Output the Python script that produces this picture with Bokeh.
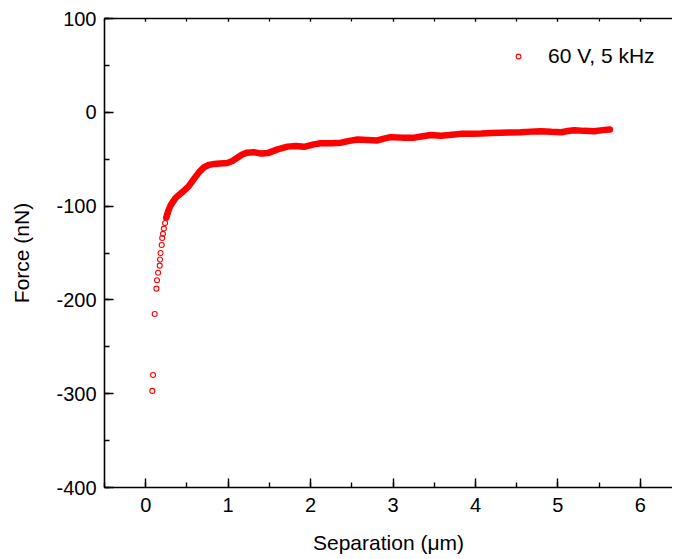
from bokeh.plotting import figure
from bokeh.models import (Range1d, LinearAxis, SingleIntervalTicker, Legend, LegendItem,
                          CustomJSTickFormatter)
from bokeh.embed import file_html
from bokeh.resources import INLINE

# Sparse approach points (separation in um, force in nN)
sep_sparse = [0.08, 0.089, 0.109, 0.13, 0.137, 0.15, 0.17, 0.174, 0.18, 0.194, 0.20, 0.21, 0.22, 0.235, 0.25, 0.27]
force_sparse = [-297, -280, -215, -188, -179, -171, -163.5, -157, -150, -141.5, -134, -129.6, -124, -118, -112.6, -107]

# Dense part of the curve
sep_dense = [0.25, 0.27, 0.30, 0.36, 0.445, 0.52, 0.586, 0.65, 0.708, 0.77, 0.83, 0.90, 0.99, 1.05, 1.11,
             1.17, 1.23, 1.31, 1.40, 1.48, 1.60, 1.72, 1.82, 1.92, 2.04, 2.12, 2.25, 2.37, 2.47, 2.57,
             2.69, 2.81, 2.89, 2.97, 3.12, 3.26, 3.36, 3.46, 3.58, 3.68, 3.82, 3.95, 4.07, 4.19, 4.31,
             4.43, 4.55, 4.67, 4.79, 4.92, 5.04, 5.12, 5.20, 5.32, 5.44, 5.54, 5.63]
force_dense = [-112, -106, -99.5, -91.5, -85, -79, -71, -63.5, -58.5, -56, -55, -54.5, -54, -52, -48.5,
               -45, -43, -42.5, -44, -43.5, -39.5, -36.6, -36, -36.8, -34.2, -33, -33, -32.4, -30.5, -29,
               -29.5, -30, -28, -26.5, -27, -27, -25.5, -24.3, -25, -24.3, -23, -22.8, -22.6, -22, -21.8,
               -21.5, -21.2, -20.6, -20.1, -20.8, -21.2, -20, -19.1, -19.8, -20.1, -19, -18.3]

series_label = "60 V, 5 kHz"
x_label = "Separation (\u03bcm)"
y_label = "Force (nN)"

FONT = "Liberation Sans"

p = figure(width=672, height=556, output_backend="svg", toolbar_location=None,
           x_range=Range1d(-0.5, 6.39), y_range=Range1d(-400, 100),
           min_border_left=104, min_border_right=0, min_border_top=18, min_border_bottom=68)
p.outline_line_color = None
p.grid.visible = False
p.background_fill_color = "white"
p.border_fill_color = "white"

plain = CustomJSTickFormatter(code="return tick.toFixed(0);")

xa = p.xaxis[0]
xa.ticker = SingleIntervalTicker(interval=1, num_minor_ticks=2)
ya = p.yaxis[0]
ya.ticker = SingleIntervalTicker(interval=100, num_minor_ticks=2)
for ax in (xa, ya):
    ax.formatter = plain
    ax.axis_line_width = 1.6
    ax.axis_line_color = "black"
    ax.major_tick_in = 9
    ax.major_tick_out = 0
    ax.minor_tick_in = 5
    ax.minor_tick_out = 0
    ax.major_tick_line_width = 1.4
    ax.minor_tick_line_width = 1.4
    ax.major_tick_line_color = "black"
    ax.minor_tick_line_color = "black"
    ax.major_label_text_font = FONT
    ax.major_label_text_font_size = "20px"
    ax.major_label_text_color = "black"
    ax.axis_label_text_font = FONT
    ax.axis_label_text_font_size = "21px"
    ax.axis_label_text_font_style = "normal"
    ax.axis_label_text_color = "black"
xa.axis_label = x_label
ya.axis_label = y_label
xa.major_label_standoff = 10
ya.major_label_standoff = 8
xa.axis_label_standoff = 16
ya.axis_label_standoff = 20

# top axis (ticks only, no labels)
top = LinearAxis(ticker=SingleIntervalTicker(interval=1, num_minor_ticks=2),
                 formatter=CustomJSTickFormatter(code="return '';"))
top.axis_line_width = 1.6
top.major_tick_in = 3
top.major_tick_out = 0
top.minor_tick_in = 3
top.minor_tick_out = 0
top.major_tick_line_width = 1.2
top.minor_tick_line_width = 1.2
top.major_label_standoff = 0
p.add_layout(top, "above")

p.line(sep_dense, force_dense, line_color="red", line_width=6.5, line_cap="round", line_join="round")
r = p.scatter(sep_sparse, force_sparse, marker="circle", size=5, fill_color=None,
              line_color="red", line_width=1.1)

legend = Legend(items=[LegendItem(label=series_label, renderers=[r])], location=(408, 419),
                border_line_color=None, background_fill_alpha=0, padding=0, margin=0,
                glyph_width=12, glyph_height=20, label_standoff=24,
                label_text_font=FONT, label_text_font_size="21px", label_text_color="black")
p.add_layout(legend)

open("out.html", "w").write(file_html(p, INLINE))
